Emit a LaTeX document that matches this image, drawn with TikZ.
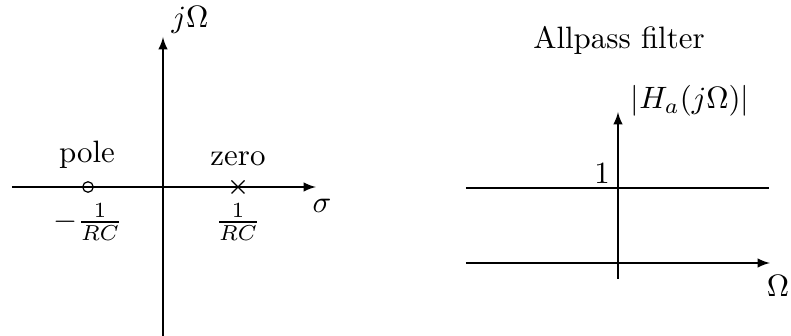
\documentclass[tikz,border=0pt]{standalone}
\usetikzlibrary{arrows}
\begin{document}
\begin{tikzpicture}[x=0.3236pt,y=-0.3236pt,
  axis/.style={-latex,line width=0.4pt},
  lbl/.style={inner sep=0pt}]
\useasboundingbox (0,0) rectangle (791,336);
% left: s-plane
\coordinate (hl) at (12,187);
\coordinate (hr) at (316,187);
\coordinate (vb) at (163,336);
\coordinate (vt) at (163,37);
\draw[axis] (hl) -- (hr);
\draw[axis] (vb) -- (vt);
\node[lbl] (jw) at (190,20) {$j\Omega$};
\node[lbl] (sig) at (322,206) {$\sigma$};
\node[draw,circle,minimum size=3.4pt,inner sep=0pt,line width=0.4pt] (pole) at (88,187) {};
\coordinate (zero) at (238,187);
\draw[line width=0.4pt] ([shift={(-6.5,-6.5)}]zero) -- ([shift={(6.5,6.5)}]zero)
                         ([shift={(-6.5,6.5)}]zero) -- ([shift={(6.5,-6.5)}]zero);
\node[lbl] (polel) at (87,155) {pole};
\node[lbl] (zerol) at (238,159) {zero};
\node[lbl] (pv) at (88,222) {$-\frac{1}{RC}$};
\node[lbl] (zv) at (238,222) {$\frac{1}{RC}$};
% right: magnitude
\node[lbl] (title) at (619,40) {Allpass filter};
\coordinate (ol) at (466,263);
\coordinate (or) at (770,263);
\coordinate (ob) at (618,279);
\coordinate (ot) at (618,112);
\coordinate (ul) at (466,188);
\coordinate (ur) at (769,188);
\draw[axis] (ol) -- (or);
\draw[axis] (ob) -- (ot);
\draw[line width=0.4pt] (ul) -- (ur);
\node[lbl] (hlab) at (690,101) {$|H_a(j\Omega)|$};
\node[lbl] (one) at (602,174) {$1$};
\node[lbl] (om) at (778,286) {$\Omega$};
\end{tikzpicture}
\end{document}
